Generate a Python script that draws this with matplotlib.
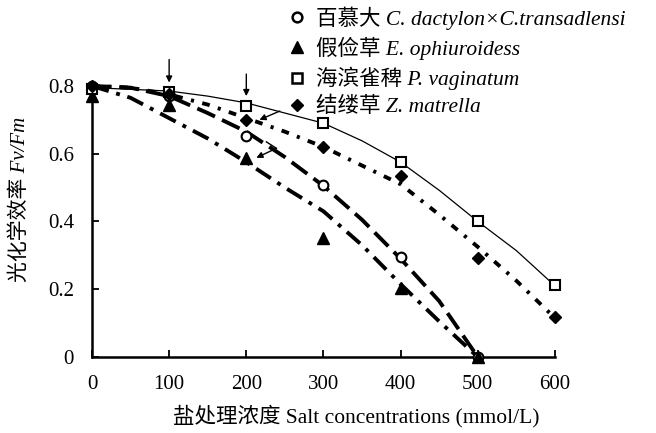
import matplotlib
matplotlib.use('Agg')
import matplotlib.pyplot as plt
from matplotlib.lines import Line2D
from matplotlib.font_manager import FontProperties

# serif latin, chinese falls back to Noto CJK
fams = ['Liberation Serif', 'Noto Sans CJK SC']
plt.rcParams['font.family'] = fams

#=====data=====
salt = [0, 100, 200, 300, 400, 500, 600]
bermuda = [0.80, 0.77, 0.652, 0.507, 0.294, 0.0]          # 百慕大, up to 500
centipede = [0.77, 0.743, 0.586, 0.35, 0.203, 0.0]        # 假俭草, up to 500
seashore = [0.79, 0.783, 0.74, 0.691, 0.575, 0.401, 0.212]
zoysia = [0.80, 0.775, 0.699, 0.62, 0.534, 0.291, 0.117]

# trend curves as drawn in the figure
trend_x = [0, 50, 100, 150, 200, 250, 300, 350, 400, 450, 500, 550, 600]
bermuda_trend = [0.80, 0.795, 0.77, 0.72, 0.665, 0.59, 0.505, 0.405, 0.29, 0.165, 0.0]
centipede_trend = [0.80, 0.765, 0.705, 0.645, 0.575, 0.50, 0.43, 0.33, 0.215, 0.105, 0.0]
seashore_trend = [0.795, 0.79, 0.785, 0.77, 0.75, 0.72, 0.69, 0.638, 0.575, 0.492, 0.40, 0.314, 0.21]
zoysia_trend = [0.80, 0.795, 0.775, 0.745, 0.705, 0.665, 0.62, 0.565, 0.51, 0.42, 0.325, 0.225, 0.115]

labels = ['百慕大 C. dactylon×C.transadlensi',
          '假俭草 E. ophiuroidess',
          '海滨雀稗 P. vaginatum',
          '结缕草 Z. matrella']

xticks = [0, 100, 200, 300, 400, 500, 600]
yticks = [0, 0.2, 0.4, 0.6, 0.8]
ytick_labels = ['0', '0.2', '0.4', '0.6', '0.8']

#-----plot-----
fig = plt.figure(figsize=(6.56, 4.33), dpi=100)
ax = fig.add_axes([0.1402, 0.1755, 0.7058, 0.626])

lw = 2.8
ax.plot(trend_x[:11], bermuda_trend, color='black', lw=lw, dashes=(5, 2), clip_on=False)
ax.plot(trend_x[:11], centipede_trend, color='black', lw=lw, dashes=(4.5, 2, 1, 2), clip_on=False)
ax.plot(trend_x, seashore_trend, color='black', lw=0.9, clip_on=False)
ax.plot(trend_x, zoysia_trend, color='black', lw=lw, dashes=(2, 2.2, 0.8, 2.2), clip_on=False)

ms = 7
ax.plot(salt[:6], bermuda, 'o', ms=ms, mfc='white', mec='black', mew=1.5, ls='none', clip_on=False, zorder=5)
ax.plot(salt[:6], centipede, '^', ms=ms + 1, color='black', ls='none', clip_on=False, zorder=5)
ax.plot(salt, seashore, 's', ms=ms, mfc='white', mec='black', mew=1.5, ls='none', clip_on=False, zorder=5)
ax.plot(salt, zoysia, 'D', ms=ms - 0.5, color='black', ls='none', clip_on=False, zorder=5)

ax.set_xlim(0, 600)
ax.set_ylim(0, 0.8)
ax.set_xticks(xticks)
ax.set_yticks(yticks)
ax.set_yticklabels(ytick_labels)
ax.tick_params(direction='in', length=5, width=1.3, labelsize=15)
ax.tick_params(axis='x', pad=13)
ax.tick_params(axis='y', pad=13)
for s in ['top', 'right']:
    ax.spines[s].set_visible(False)
for s in ['left', 'bottom']:
    ax.spines[s].set_linewidth(1.8)

ax.set_xlabel('盐处理浓度 Salt concentrations (mmol/L)', fontsize=15.5)
ax.xaxis.set_label_coords(0.57, -0.175)
# chinese has no italic face, so only Fv/Fm comes out slanted
ax.set_ylabel('光化学效率 Fv/Fm', fontsize=15, style='italic')
ax.yaxis.set_label_coords(-0.135, 0.58)

# arrows
arr = dict(arrowstyle='-|>', color='black', lw=1.0, mutation_scale=9, shrinkA=0, shrinkB=0)
ax.annotate('', xy=(100, 0.81), xytext=(100, 0.878), arrowprops=arr, annotation_clip=False)
ax.annotate('', xy=(200, 0.77), xytext=(200, 0.835), arrowprops=arr, annotation_clip=False)
ax.annotate('', xy=(217, 0.70), xytext=(243.5, 0.726), arrowprops=arr)
ax.plot([226, 239], [0.635, 0.616], color='black', lw=1.0)
ax.annotate('', xy=(213, 0.588), xytext=(239, 0.616), arrowprops=arr)

# legend (markers only)
handles = [Line2D([], [], marker='o', ls='none', ms=ms, mfc='white', mec='black', mew=1.8),
           Line2D([], [], marker='^', ls='none', ms=ms + 1, color='black'),
           Line2D([], [], marker='s', ls='none', ms=ms, mfc='white', mec='black', mew=1.8),
           Line2D([], [], marker='D', ls='none', ms=ms - 1, color='black')]
fig.legend(handles, labels, loc='upper left', bbox_to_anchor=(0.41, 1.03),
           frameon=False, handlelength=0.8, handletextpad=0.5, labelspacing=0.32,
           prop=FontProperties(family=fams, style='italic', size=15.5))

fig.savefig('out.png', dpi=100)
